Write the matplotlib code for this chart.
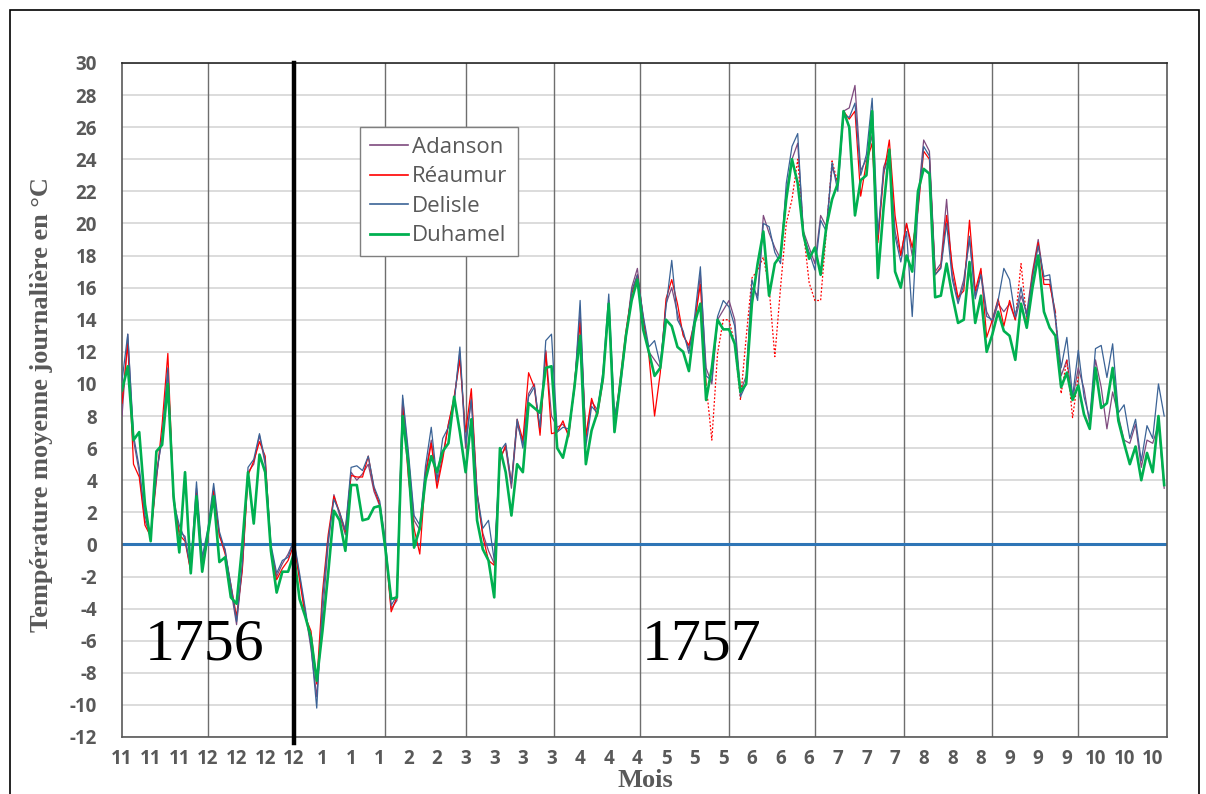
import numpy as np
import matplotlib.pyplot as plt
from matplotlib.patches import Rectangle

plt.rcParams["axes.unicode_minus"] = False

# Daily mean temperatures, Nov 1756 - Oct 1757, read every 2nd day (day 0 = 1 Nov)
days = np.arange(0, 365, 2)

adanson = [
    8.0, 13.1, 6.5, 4.5, 1.5, 0.5, 4.5, 6.5, 10.8, 3.0, 0.8, 0.5, -1.7, 3.5, -1.0, 0.8, 3.5, 0.5, -0.3,
    -2.8, -5.0, -1.5, 4.5, 5.0, 6.8, 5.0, -0.2, -2.0, -1.2, -0.6, 0.2, -2.0, -4.2, -6.5, -9.5, -4.5, 0.0,
    3.1, 1.8, 0.6, 4.5, 4.0, 4.4, 5.0, 3.3, 2.4, 0.0, -4.0, -3.5, 9.1, 5.5, 1.5, 0.9, 4.5, 6.5, 3.8,
    5.5, 7.5, 9.0, 12.0, 6.0, 9.2, 3.0, 0.7, -0.4, -1.2, 5.5, 6.0, 3.5, 7.5, 6.3, 9.4, 10.0, 7.0,
    12.1, 8.0, 7.3, 7.5, 6.9, 9.8, 14.5, 6.5, 8.9, 8.4, 10.5, 15.0, 7.8, 10.0, 13.0, 16.0, 17.2, 14.0,
    12.0, 11.5, 11.0, 15.0, 16.0, 14.4, 13.1, 12.2, 13.6, 16.8, 11.0, 10.0, 14.0, 14.6, 15.2, 14.0, 9.5, 10.5,
    16.0, 15.5, 20.5, 19.4, 18.5, 17.8, 22.0, 24.0, 25.0, 19.5, 18.5, 17.5, 20.5, 19.8, 23.5, 22.5, 27.0,
    27.2, 28.6, 23.3, 24.0, 25.5, 19.0, 23.5, 24.5, 19.5, 18.0, 20.0, 18.0, 21.5, 25.2, 24.5, 17.0, 17.5, 21.5, 16.8,
    15.2, 16.5, 19.0, 15.5, 17.0, 14.5, 13.8, 15.0, 14.5, 15.0, 14.0, 15.5, 14.4, 17.0, 19.0, 16.5, 16.5,
    14.0, 10.5, 11.5, 9.0, 11.0, 9.7, 7.5, 11.5, 9.8, 7.2, 9.5, 8.0, 6.5, 6.3, 7.5, 4.8, 6.5, 6.3, 7.5, 3.5,
]

reaumur = [
    8.8, 12.5, 5.0, 4.2, 1.2, 0.5, 4.0, 7.5, 11.9, 2.8, 0.6, 0.2, -1.7, 3.2, -1.7, 0.6, 3.3, 0.6, -0.6,
    -2.5, -4.5, -1.6, 4.3, 5.2, 6.4, 5.5, -0.5, -2.2, -1.5, -1.0, 0.0, -2.2, -4.5, -5.4, -8.7, -3.0, 0.6,
    3.0, 2.0, 0.8, 4.3, 4.2, 4.2, 5.5, 3.5, 2.5, -0.2, -4.2, -3.3, 8.8, 4.2, 1.0, -0.6, 4.3, 6.3, 3.5,
    5.3, 7.5, 9.2, 11.5, 7.0, 9.7, 3.3, 0.5, -1.0, -1.3, 5.2, 6.2, 3.8, 7.8, 6.5, 10.7, 9.8, 6.8,
    12.0, 6.9, 7.0, 7.7, 6.7, 10.0, 13.8, 6.8, 9.1, 8.0, 10.2, 15.2, 7.3, 10.3, 13.3, 15.6, 16.8, 14.2,
    11.8, 8.0, 10.7, 15.3, 16.5, 15.0, 13.0, 12.4, 13.9, 16.2, 10.0, 6.5, 11.9, 14.0, 14.0, 12.5, 9.0, 12.9,
    16.6, 17.1, 17.9, 16.0, 11.7, 16.0, 20.0, 21.5, 24.0, 19.5, 16.3, 15.2, 15.2, 19.5, 23.9, 22.5, 27.0,
    26.5, 27.0, 21.7, 23.8, 25.0, 18.8, 23.0, 25.2, 20.5, 18.0, 20.0, 18.5, 20.8, 24.5, 24.0, 16.8, 17.3, 20.5, 17.3,
    15.4, 15.8, 20.2, 15.8, 17.2, 12.9, 14.0, 15.3, 13.6, 15.2, 14.0, 17.5, 14.0, 16.8, 18.8, 16.2, 16.2,
    14.5, 9.4, 11.5, 7.9, 10.5, np.nan, np.nan, np.nan, np.nan, np.nan, np.nan, np.nan, np.nan, np.nan,
    np.nan, np.nan, np.nan, np.nan, np.nan, np.nan,
]
# periods where the Réaumur series is drawn dotted (day ranges)
reaumur_dotted = [(204, 250), (312, 316), (326, 334)]

delisle = [
    10.2, 13.1, 6.8, 4.8, 1.8, 0.6, 4.2, 6.8, 11.0, 2.6, 1.2, 0.3, -1.5, 3.9, -0.8, 1.0, 3.8, 0.8, -0.4,
    -2.5, -4.8, -1.2, 4.8, 5.3, 6.9, 5.2, 0.0, -1.8, -1.0, -0.8, 0.3, -1.8, -4.0, -6.3, -10.2, -3.5, 0.3,
    2.8, 2.0, 0.9, 4.8, 4.9, 4.6, 5.5, 3.6, 2.7, 0.2, -3.8, -3.2, 9.3, 5.8, 1.8, 1.2, 4.9, 7.3, 4.0,
    6.6, 7.3, 8.8, 12.3, 6.3, 9.0, 3.2, 1.0, 1.5, -1.0, 5.8, 6.3, 3.8, 7.8, 6.0, 9.2, 9.8, 7.3,
    12.7, 13.1, 7.0, 7.3, 7.2, 9.6, 15.2, 6.1, 8.6, 8.2, 10.8, 15.6, 8.0, 9.7, 12.8, 15.8, 16.8, 14.3,
    12.3, 12.7, 11.2, 14.8, 17.7, 14.0, 13.3, 11.9, 14.2, 17.3, 10.5, 10.2, 14.2, 15.2, 14.8, 13.6, 9.2, 10.0,
    16.5, 15.2, 20.0, 19.8, 18.2, 17.5, 22.5, 24.8, 25.6, 19.2, 18.2, 17.1, 20.2, 19.5, 23.8, 22.0, 26.8,
    26.6, 27.5, 23.0, 24.3, 27.8, 19.3, 23.2, 24.2, 19.2, 17.6, 19.5, 14.2, 21.0, 24.8, 24.2, 16.8, 17.2, 20.0, 16.5,
    15.0, 16.2, 19.2, 15.3, 16.8, 14.2, 14.0, 15.2, 17.2, 16.5, 14.2, 16.0, 14.2, 16.6, 18.6, 16.7, 16.8,
    14.2, 11.0, 12.9, 9.2, 12.1, 9.2, 7.8, 12.2, 12.4, 10.4, 12.5, 8.2, 8.7, 6.6, 7.8, 5.2, 7.4, 6.6, 10.0, 8.0,
]

duhamel = [
    9.6, 11.1, 6.5, 7.0, 2.5, 0.2, 5.8, 6.2, 10.0, 3.0, -0.5, 4.5, -1.8, 3.0, -1.7, 0.7, 3.0, -1.1, -0.8,
    -3.3, -3.7, 0.0, 4.5, 1.3, 5.6, 4.5, -0.4, -3.0, -1.7, -1.7, -0.6, -3.4, -4.5, -5.8, -8.5, -5.4, -1.8,
    2.1, 1.5, -0.4, 3.7, 3.7, 1.5, 1.6, 2.3, 2.4, -0.3, -3.4, -3.3, 8.0, 5.0, -0.2, 1.0, 4.0, 5.5, 4.5,
    5.8, 6.3, 9.2, 7.0, 4.5, 7.8, 1.5, -0.3, -1.0, -3.3, 6.0, 4.5, 1.8, 5.0, 4.5, 8.8, 8.5, 8.2,
    11.0, 11.1, 6.0, 5.4, 7.0, 9.8, 13.0, 5.0, 7.1, 8.2, 10.4, 15.0, 7.0, 10.0, 13.0, 15.2, 16.5, 13.4,
    12.0, 10.5, 11.0, 14.0, 13.6, 12.3, 12.0, 10.8, 13.8, 15.0, 9.0, 11.0, 14.0, 13.4, 13.4, 12.5, 9.5, 10.0,
    15.0, 17.5, 19.5, 15.5, 17.5, 18.0, 21.5, 24.0, 22.5, 19.3, 17.8, 18.5, 16.8, 19.8, 21.5, 22.5, 27.0,
    26.0, 20.5, 22.7, 23.0, 27.0, 16.6, 21.0, 24.6, 17.0, 16.0, 18.0, 17.0, 22.0, 23.4, 23.1, 15.4, 15.5, 17.5, 15.5,
    13.8, 14.0, 17.6, 13.8, 15.5, 12.0, 13.1, 14.5, 13.3, 13.0, 11.5, 15.0, 13.5, 16.0, 18.0, 14.5, 13.5,
    13.0, 9.8, 10.7, 9.0, 9.9, 8.1, 7.2, 11.0, 8.5, 8.8, 11.0, 7.7, 6.3, 5.0, 6.1, 4.0, 5.7, 4.5, 8.0, 3.7,
]

# x axis: a label every 10 days, month number of that day
tick_days = np.arange(0, 365, 10)
tick_labels = ["11", "11", "11", "12", "12", "12", "12", "1", "1", "1", "2", "2",
               "3", "3", "3", "3", "4", "4", "4", "5", "5", "5", "6", "6", "6",
               "7", "7", "7", "8", "8", "8", "9", "9", "9", "10", "10", "10"]
month_starts = [30, 92, 120, 151, 181, 212, 242, 273, 304, 334]
year_split = 60

fig = plt.figure(figsize=(12.06, 7.94), dpi=100)
ax = fig.add_axes([0.1012, 0.0718, 0.8665, 0.8489])
ax.set_xlim(0, 365)
ax.set_ylim(-12, 30)

ax.set_yticks(range(-12, 31, 2))
ax.yaxis.grid(True, color="#D9D9D9", lw=1.3)
ax.set_axisbelow(True)
for m in month_starts:
    ax.axvline(m, color="#6E6E6E", lw=1.0, zorder=1)

ax.axhline(0, color="#2E75B6", lw=2.2, zorder=2)

ax.plot(days, adanson, color="#7E4A7E", lw=0.9, label="Adanson", zorder=3)

r = np.array(reaumur)
inside = np.zeros(len(days), bool)
dotted = np.zeros(len(days), bool)
for a, b in reaumur_dotted:
    inside |= (days > a) & (days < b)
    dotted |= (days >= a) & (days <= b)
ax.plot(days, np.where(inside, np.nan, r), color="#FF0000", lw=0.9, label="Réaumur", zorder=3)
ax.plot(days, np.where(dotted, r, np.nan), color="#FF0000", lw=0.9, ls=(0, (1.5, 1.5)), zorder=3)

ax.plot(days, delisle, color="#3B6396", lw=0.9, label="Delisle", zorder=3)
ax.plot(days, duhamel, color="#00B050", lw=1.9, label="Duhamel", zorder=4)

ax.plot([year_split, year_split], [30, -12.35], color="black", lw=3.2, zorder=5, clip_on=False)

ax.set_xticks(tick_days)
ax.set_xticklabels(tick_labels)
ax.tick_params(length=0, labelsize=13.5, labelcolor="#595959")
ax.tick_params(axis="x", pad=9)
ax.tick_params(axis="y", pad=18)
for t in ax.get_xticklabels() + ax.get_yticklabels():
    t.set_fontweight("bold")
    t.set_fontfamily("Open Sans")

for s in ax.spines.values():
    s.set_color("#595959")
    s.set_linewidth(1.2)
ax.spines["top"].set_color("#262626")

leg = ax.legend(loc="upper left", bbox_to_anchor=(0.2278, 0.905), borderaxespad=0,
                prop={"family": "Open Sans", "size": 16}, handlelength=1.7,
                handletextpad=0.2, labelspacing=0.38, borderpad=0.45,
                fancybox=False, framealpha=1, edgecolor="#7F7F7F")
for txt in leg.get_texts():
    txt.set_color("#595959")
for h in leg.get_lines():
    h.set_linewidth(1.2)
leg.get_lines()[3].set_linewidth(2.0)

fig.text(42 / 1206, 1 - 405 / 794, "Température moyenne journalière en °C", rotation=90,
         ha="center", va="center", fontsize=19, fontweight="bold",
         family="Liberation Serif", color="#595959")
fig.text(645 / 1206, 2 / 794, "Mois", ha="center", va="bottom", fontsize=19,
         fontweight="bold", family="Liberation Serif", color="#595959")
fig.text(205 / 1206, 1 - 645 / 794, "1756", ha="center", va="center", fontsize=43,
         family="Liberation Serif", color="black")
fig.text(702 / 1206, 1 - 645 / 794, "1757", ha="center", va="center", fontsize=43,
         family="Liberation Serif", color="black")

fig.patches.append(Rectangle((10 / 1206, -0.05), 1189 / 1206, 1 - 10 / 794 + 0.05,
                             transform=fig.transFigure, fill=False, edgecolor="black",
                             lw=1.2, clip_on=False))

fig.savefig("out.png", dpi=100)
